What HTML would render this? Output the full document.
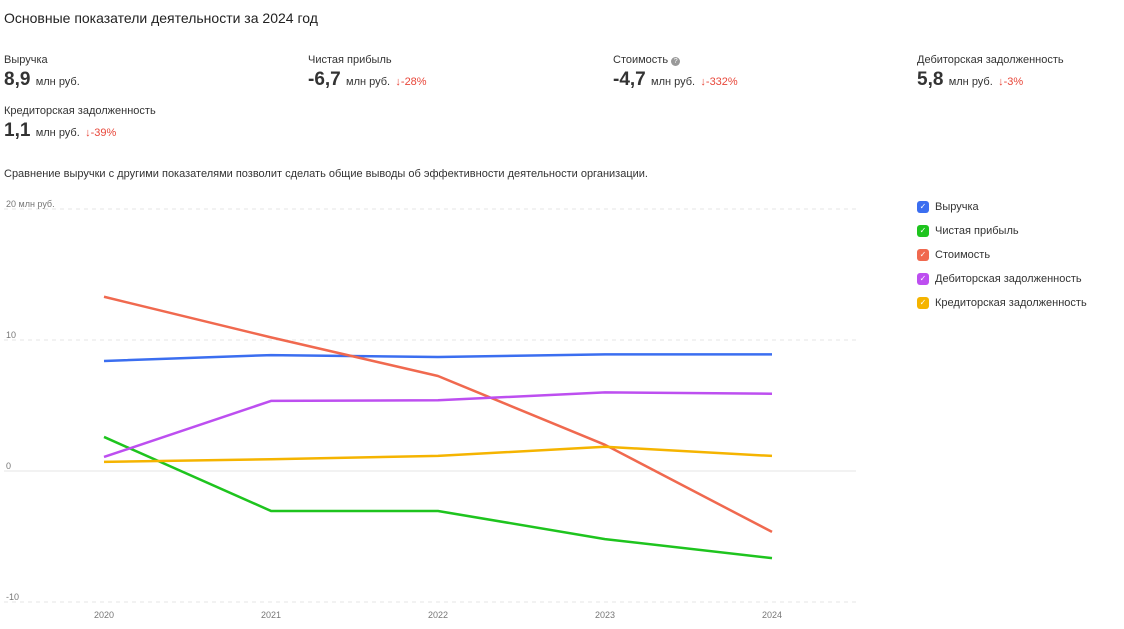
<!DOCTYPE html>
<html><head><meta charset="utf-8"><style>
body{margin:0;width:1124px;height:629px;background:#fff;font-family:"Liberation Sans","DejaVu Sans",sans-serif;color:#222;position:relative;overflow:hidden}
.abs{position:absolute}
.lbl{font-size:11px;color:#333;line-height:13px}
.val{font-size:19px;font-weight:bold;color:#333;margin-top:2px;line-height:22px}
.unit{font-size:11px;font-weight:normal;color:#333}
.neg{font-size:11px;font-weight:normal;color:#e8473a}
.leg{position:absolute;left:917px;font-size:11px;color:#333;display:flex;align-items:center}
.leg i{display:inline-block;width:12px;height:12px;border-radius:3px;margin-right:6px;color:#fff;font-style:normal;font-size:8px;text-align:center;line-height:12px}
</style></head><body>
<div class="abs" style="left:4px;top:10px;font-size:14px;color:#222">Основные показатели деятельности за 2024 год</div>

<div class="abs" style="left:4px;top:54px"><div class="lbl">Выручка</div><div class="val">8,9 <span class="unit">млн руб.</span></div></div>
<div class="abs" style="left:308px;top:54px"><div class="lbl">Чистая прибыль</div><div class="val">-6,7 <span class="unit">млн руб.</span> <span class="neg">↓-28%</span></div></div>
<div class="abs" style="left:613px;top:54px"><div class="lbl">Стоимость <span style="display:inline-block;width:9px;height:9px;border-radius:50%;background:#999;color:#fff;font-size:7px;text-align:center;line-height:9px">?</span></div><div class="val">-4,7 <span class="unit">млн руб.</span> <span class="neg">↓-332%</span></div></div>
<div class="abs" style="left:917px;top:54px"><div class="lbl">Дебиторская задолженность</div><div class="val">5,8 <span class="unit">млн руб.</span> <span class="neg">↓-3%</span></div></div>
<div class="abs" style="left:4px;top:105px"><div class="lbl">Кредиторская задолженность</div><div class="val">1,1 <span class="unit">млн руб.</span> <span class="neg">↓-39%</span></div></div>

<div class="abs" style="left:4px;top:168px;font-size:11px;color:#333">Сравнение выручки с другими показателями позволит сделать общие выводы об эффективности деятельности организации.</div>

<svg class="abs" style="left:0;top:0" width="900" height="629" id="chart"></svg>

<div class="leg" style="top:201px"><i style="background:#3b6ef0">✓</i>Выручка</div>
<div class="leg" style="top:225px"><i style="background:#1ec41e">✓</i>Чистая прибыль</div>
<div class="leg" style="top:249px"><i style="background:#f0694f">✓</i>Стоимость</div>
<div class="leg" style="top:273px"><i style="background:#bd4ff0">✓</i>Дебиторская задолженность</div>
<div class="leg" style="top:297px"><i style="background:#f5b400">✓</i>Кредиторская задолженность</div>

<script>
const years = ["2020","2021","2022","2023","2024"];
const revenue = [8.4, 8.85, 8.7, 8.9, 8.9];
const netProfit = [2.6, -3.05, -3.05, -5.2, -6.65];
const cost = [13.3, 10.2, 7.25, 2.0, -4.65];
const receivables = [1.07, 5.35, 5.4, 6.0, 5.9];
const payables = [0.7, 0.9, 1.15, 1.85, 1.15];
const yTicks = [20, 10, 0, -10];
const yTickLabels = ["20 млн руб.", "10", "0", "-10"];

const svg = document.getElementById('chart');
const NS = "http://www.w3.org/2000/svg";
function yS(v){ return 471 - v*13.1; }
function xS(i){ return 104 + i*167; }
function mk(tag, attrs){ const e=document.createElementNS(NS,tag); for(const k in attrs) e.setAttribute(k,attrs[k]); svg.appendChild(e); return e; }

yTicks.forEach((t,i)=>{
  const g = mk('line',{x1:4,x2:856,y1:yS(t),y2:yS(t),stroke:'#e6e6e6','stroke-dasharray':t===0?'':'4 4'});
  
  
  const tx = mk('text',{x:6,y:yS(t)-2,'font-size':9,fill:'#777','font-family':'Liberation Sans, sans-serif'});
  tx.textContent = yTickLabels[i];
  
  
});
years.forEach((y,i)=>{
  const tx = mk('text',{x:xS(i),y:618,'font-size':9,fill:'#777','text-anchor':'middle','font-family':'Liberation Sans, sans-serif'});
  tx.textContent = y;
  
  
});
const series = [[revenue,'#3b6ef0','revenue-line'],[netProfit,'#1ec41e','net-profit-line'],[cost,'#f0694f','cost-line'],[receivables,'#bd4ff0','receivables-line'],[payables,'#f5b400','payables-line']];
series.forEach(([d,c,n])=>{
  const p = mk('polyline',{points:d.map((v,i)=>xS(i)+','+yS(v)).join(' '),fill:'none',stroke:c,'stroke-width':2.5,'stroke-linejoin':'round'});
  
  
});
</script>
</body></html>
